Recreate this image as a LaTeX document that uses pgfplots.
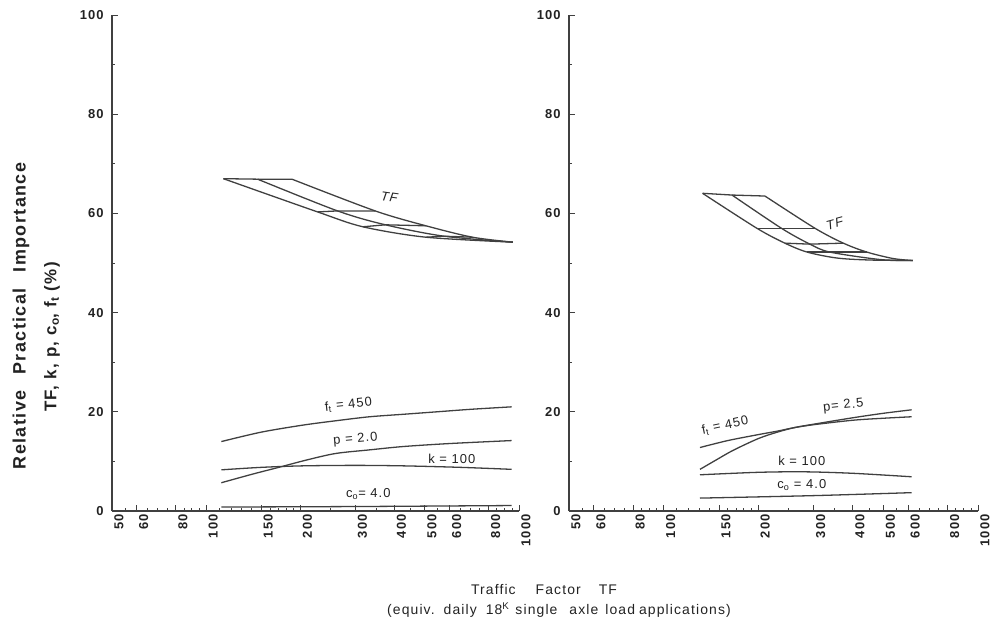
\documentclass[border=0pt]{standalone}
\usepackage{fontspec}
\setmainfont{Liberation Sans}
\newfontfamily\lettering[LetterSpace=8]{Liberation Sans}
\usepackage{pgfplots}
\pgfplotsset{compat=1.18}
\definecolor{ink}{HTML}{404040}
\definecolor{txt}{HTML}{222222}
\pgfplotsset{
  /pgfplots/mypanel/.style={
    scale only axis, height=496bp,
    xmin=50, xmax=1000, ymin=0, ymax=100,
    axis x line*=bottom, axis y line*=left,
    axis line style={ink, line width=1.4pt, -},
    xtick={50,60,80,100,150,200,300,400,500,600,800,1000},
    xticklabels={50,60,80,100,150,200,300,400,500,600,800,1000},
    minor xtick={55,65,70,75,85,90,95,110,120,130,140,160,170,180,190,250,350,450,550,650,700,750,850,900,950},
    ytick={0,20,40,60,80,100},
    minor ytick={10,30,50,70,90},
    tick align=inside,
    major tick length=6bp, minor tick length=3bp,
    tick style={ink, line width=0.9pt},
    xticklabel style={rotate=90, anchor=east, yshift=-7bp, text=txt, font=\lettering\bfseries\fontsize{13}{14}\selectfont},
    yticklabel style={xshift=-5bp, text=txt, font=\lettering\bfseries\fontsize{13}{14}\selectfont},
    /pgf/number format/assume math mode=true,
    clip=false,
    cycle list={ink, solid, line width=1.3pt, mark=none\\},
  },
}
\tikzset{lab/.style={font=\lettering\fontsize{13}{14}\selectfont, text=txt, inner sep=1pt}}
\begin{document}
\begin{tikzpicture}
\useasboundingbox (0,0) rectangle (994bp,623bp);
% ---------------- left panel ----------------
\begin{axis}[xmode=log, mypanel, width=407bp, at={(112bp,112bp)}, anchor=south west]
% TF mesh
\addplot+[smooth, tension=0.5] coordinates {(113.5,67.0) (227,60.3) (317,57.3) (504,55.2) (956,54.2)};
\addplot+[smooth, tension=0.5] coordinates {(146,66.9) (263,60.5) (374,57.7) (576,55.4) (956,54.2)};
\addplot+[smooth, tension=0.5] coordinates {(188,66.9) (347,60.5) (504,57.5) (710,55.2) (956,54.2)};
\addplot+[] coordinates {(113.5,67.0) (146,66.9) (188,66.9)};
\addplot+[] coordinates {(227,60.3) (263,60.5) (347,60.5)};
\addplot+[] coordinates {(317,57.3) (374,57.7) (504,57.5)};
\addplot+[] coordinates {(504,55.2) (576,55.4) (710,55.2)};
% f_t
\addplot+[smooth] coordinates {(111.8,14.0) (150,15.9) (203,17.3) (260,18.2) (333,19.0) (427,19.5) (547,20.0) (700,20.5) (947,21.0)};
% p
\addplot+[smooth] coordinates {(111.8,5.7) (140,7.4) (170.6,8.8) (210,10.3) (259.5,11.6) (330,12.3) (427,13.0) (600,13.6) (947,14.2)};
% k
\addplot+[smooth] coordinates {(111.8,8.3) (150,8.8) (203,9.1) (300,9.2) (427,9.1) (650,8.8) (947,8.4)};
% c_o
\addplot+[smooth] coordinates {(111.8,0.8) (300,0.9) (947,1.1)};
\node[lab, rotate=-8] at (axis cs:385,63.3) {\itshape TF};
\node[lab, rotate=6] at (axis cs:285,21.4) {f\textsubscript{t} = 450};
\node[lab, rotate=5] at (axis cs:300,14.4) {p = 2.0};
\node[lab] at (axis cs:610,10.6) {k = 100};
\node[lab] at (axis cs:330,3.4) {c\textsubscript{o}= 4.0};
\end{axis}
% ---------------- right panel ----------------
\begin{axis}[xmode=log, mypanel, width=409bp, at={(569bp,112bp)}, anchor=south west]
\addplot+[smooth, tension=0.5] coordinates {(133,64.05) (198,57.0) (243,54.0) (286,52.2) (356,51.0) (453,50.6) (621,50.5)};
\addplot+[smooth, tension=0.5] coordinates {(165,63.7) (237,57.0) (292,53.8) (338,52.2) (488,50.7) (621,50.5)};
\addplot+[smooth, tension=0.5] coordinates {(210,63.5) (303,57.0) (373,54.0) (443,52.2) (537,50.9) (621,50.5)};
\addplot+[] coordinates {(133,64.05) (165,63.7) (210,63.5)};
\addplot+[] coordinates {(198,57.0) (237,57.0) (303,57.0)};
\addplot+[] coordinates {(243,54.0) (292,53.8) (373,54.0)};
\addplot+[] coordinates {(286,52.2) (338,52.2) (443,52.2)};
% f_t
\addplot+[smooth] coordinates {(130.5,12.8) (160,14.2) (200,15.4) (230,16.1) (260,16.8) (300,17.4) (400,18.3) (500,18.7) (615,19.0)};
% p
\addplot+[smooth] coordinates {(130.5,8.4) (147,10.3) (166,12.2) (200,14.6) (230,15.9) (260,16.8) (300,17.5) (400,18.8) (500,19.7) (615,20.4)};
% k
\addplot+[smooth] coordinates {(130.5,7.3) (200,7.8) (280,7.9) (400,7.6) (615,6.9)};
% c_o
\addplot+[smooth] coordinates {(130.5,2.6) (300,3.1) (615,3.7)};
\node[lab, rotate=15] at (axis cs:350,57.9) {\itshape TF};
\node[lab, rotate=12] at (axis cs:157,17.2) {f\textsubscript{t} = 450};
\node[lab, rotate=6] at (axis cs:373,21.2) {p= 2.5};
\node[lab] at (axis cs:275,10.1) {k = 100};
\node[lab] at (axis cs:275,5.2) {c\textsubscript{o} = 4.0};
\end{axis}
% ---------------- axis titles ----------------
\node[rotate=90, text=txt, font=\lettering\bfseries\fontsize{18}{20}\selectfont, inner sep=0pt] at (21bp,307bp) {Relative\hspace{16bp}Practical\hspace{16bp}Importance};
\node[rotate=90, text=txt, font=\lettering\bfseries\fontsize{17}{20}\selectfont, inner sep=0pt] at (52bp,286bp) {TF, k, p, c\textsubscript{o}, f\textsubscript{t} (\%)};
\node[text=txt, font=\lettering\fontsize{14}{16}\selectfont, inner sep=0pt] at (544bp,33bp) {Traffic\hspace{20bp}Factor\hspace{18bp}TF};
\node[text=txt, font=\lettering\fontsize{14}{16}\selectfont, inner sep=0pt] at (559bp,13bp) {(equiv.\hspace{9bp}daily\hspace{9bp}18\textsuperscript{K}\hspace{6bp}single\hspace{12bp}axle\hspace{7bp}load\hspace{4bp}applications)};
\end{tikzpicture}
\end{document}
